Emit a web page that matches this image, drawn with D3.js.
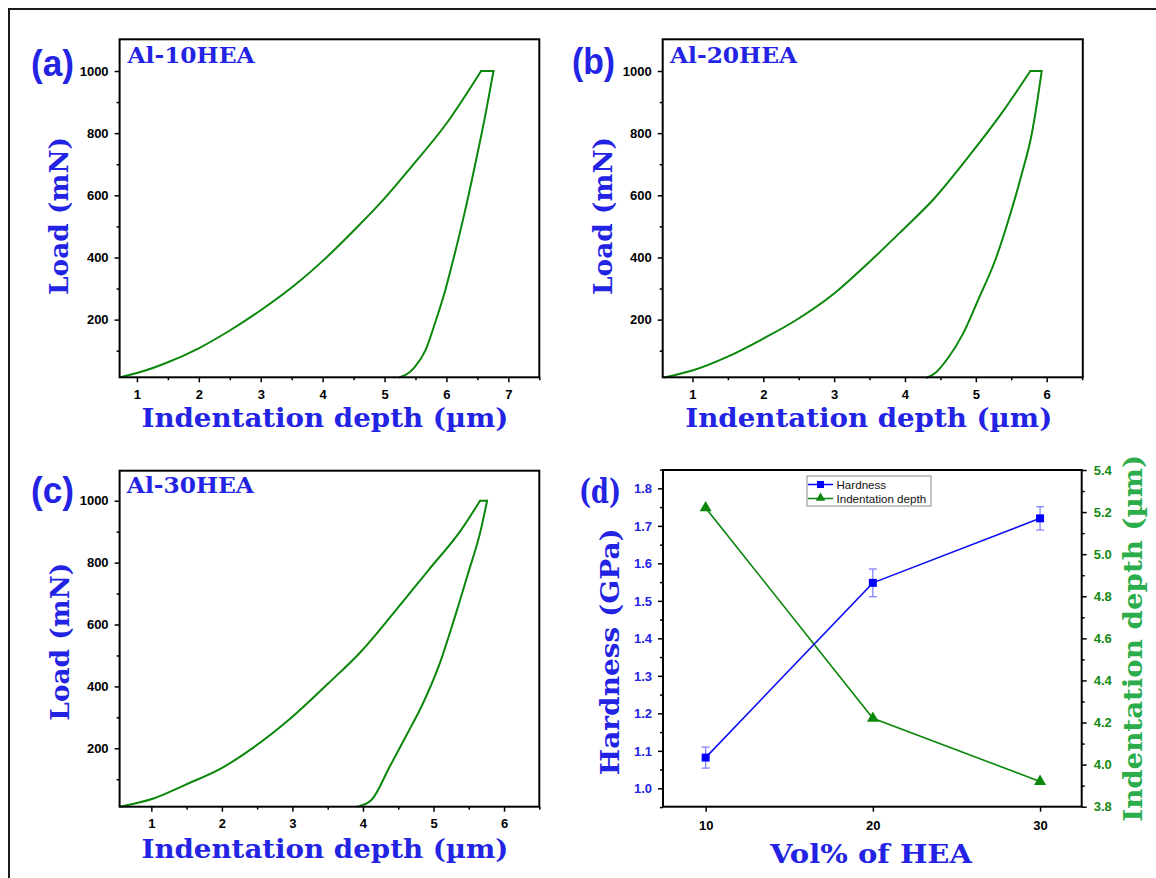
<!DOCTYPE html>
<html>
<head>
<meta charset="utf-8">
<script src="https://cdn.jsdelivr.net/npm/d3@7"></script>
<style>
  body { margin: 0; background: #fff; }
  svg { display: block; }
</style>
</head>
<body>
<svg id="fig" width="1156" height="878"></svg>
<script>
// ---- Load–depth curves: [depth (µm), load (mN)] ----
const al10Loading = [[0.74,15],[1.0,28],[1.44,58],[1.99,107],[2.5,165],[3.0,230],[3.58,316],[3.98,385],[4.56,498],[5.0,590],[5.43,691],[6.0,831],[6.56,1000]];
const al10Unloading = [[6.76,1000],[6.64,870],[6.47,705],[6.29,541],[6.12,401],[5.98,294],[5.83,198],[5.66,101],[5.49,48],[5.40,30],[5.24,14]];

const al20Loading = [[0.60,14],[1.01,37],[1.49,80],[2.0,139],[2.46,198],[3.0,284],[3.42,369],[3.96,487],[4.39,584],[4.93,734],[5.36,863],[5.77,1000]];
const al20Unloading = [[5.93,1000],[5.87,906],[5.79,798],[5.65,670],[5.46,520],[5.28,395],[5.03,262],[4.82,155],[4.60,74],[4.44,31],[4.31,13]];

const al30Loading = [[0.57,12],[1.03,38],[1.48,82],[1.99,135],[2.40,195],[3.0,302],[3.51,410],[3.97,512],[4.43,636],[4.93,776],[5.39,905],[5.66,1000]];
const al30Unloading = [[5.76,1000],[5.67,905],[5.49,765],[5.29,615],[5.09,475],[4.83,335],[4.63,248],[4.38,141],[4.12,33],[3.93,12]];

// ---- Hardness and indentation depth vs HEA content ----
const heaVolPct = [10, 20, 30];
const hardnessGPa = [1.082, 1.548, 1.72];
const hardnessErr = [0.028, 0.037, 0.031];
const indentDepthUm = [5.22, 4.22, 3.92];

// ---- Tick values ----
const loadMajorTicks = [200, 400, 600, 800, 1000];
const loadMinorTicks = [100, 300, 500, 700, 900];
const hardnessTicks = [1.0, 1.1, 1.2, 1.3, 1.4, 1.5, 1.6, 1.7, 1.8];
const depthTicks = [3.8, 4.0, 4.2, 4.4, 4.6, 4.8, 5.0, 5.2, 5.4];

// ---- Style ----
const BLUE = "#2323e4";
const CURVE_GREEN = "#0b870b";
const TITLE_GREEN = "#2aad4a";
const TICK_GREEN = "#138a13";
const SERIF = "'DejaVu Serif', serif";
const SANS = "Arial, 'Liberation Sans', sans-serif";

const svg = d3.select("#fig");
svg.append("rect").attr("width", 1156).attr("height", 878).attr("fill", "#fff");

// outer frame (only its top and left edges fall inside the page)
svg.append("rect")
  .attr("x", 9).attr("y", 9).attr("width", 1170).attr("height", 890)
  .attr("fill", "none").attr("stroke", "#1a1a1a").attr("stroke-width", 2);

function styleTicks(g, color, size) {
  g.select(".domain").remove();
  g.selectAll(".tick line").attr("stroke", "#000").attr("stroke-width", 1.5);
  g.selectAll(".tick text")
    .attr("fill", color)
    .style("font-family", SANS)
    .style("font-weight", "bold")
    .style("font-size", size + "px");
}

function rangeStep(a, b, step) {
  const out = [];
  for (let v = a; v <= b + 1e-9; v += step) out.push(+v.toFixed(4));
  return out;
}

function yTitle(text, x, cy, len, color) {
  svg.append("text")
    .attr("transform", `translate(${x},${cy}) rotate(-90)`)
    .attr("text-anchor", "middle")
    .attr("textLength", len).attr("lengthAdjust", "spacingAndGlyphs")
    .attr("fill", color)
    .style("font-family", SERIF).style("font-weight", "bold").style("font-size", "26px")
    .text(text);
}

function xTitle(text, cx, y, len) {
  svg.append("text")
    .attr("x", cx).attr("y", y)
    .attr("text-anchor", "middle")
    .attr("textLength", len).attr("lengthAdjust", "spacingAndGlyphs")
    .attr("fill", BLUE)
    .style("font-family", SERIF).style("font-weight", "bold").style("font-size", "26px")
    .text(text);
}

// depth rises with load on both branches, so each branch is sorted by depth
const byDepth = pts => pts.slice().sort((a, b) => a[0] - b[0]);

function drawLoadPanel(p) {
  const x = d3.scaleLinear().domain(p.xDomain).range([p.left, p.right]);
  const y = d3.scaleLinear().domain(p.yDomain).range([p.bottom, p.top]);

  const xMajor = d3.range(1, Math.floor(p.xDomain[1]) + 1);
  const xMinor = rangeStep(0.5, p.xDomain[1], 1).filter(v => v >= p.xDomain[0]);

  svg.append("g").attr("transform", `translate(0,${p.bottom})`)
    .call(d3.axisBottom(x).tickValues(xMajor).tickSize(5).tickPadding(7).tickFormat(d3.format("d")))
    .call(g => styleTicks(g, "#000", 13));
  svg.append("g").attr("transform", `translate(0,${p.bottom})`)
    .call(d3.axisBottom(x).tickValues(xMinor).tickSize(3).tickFormat(""))
    .call(g => styleTicks(g, "#000", 13));
  svg.append("g").attr("transform", `translate(${p.left},0)`)
    .call(d3.axisLeft(y).tickValues(loadMajorTicks).tickSize(5).tickPadding(6).tickFormat(d3.format("d")))
    .call(g => styleTicks(g, "#000", 13));
  svg.append("g").attr("transform", `translate(${p.left},0)`)
    .call(d3.axisLeft(y).tickValues(loadMinorTicks).tickSize(3).tickFormat(""))
    .call(g => styleTicks(g, "#000", 13));

  const smooth = d3.line().x(d => x(d[0])).y(d => y(d[1])).curve(d3.curveMonotoneX);
  const straight = d3.line().x(d => x(d[0])).y(d => y(d[1]));
  const plot = svg.append("g").attr("fill", "none").attr("stroke", CURVE_GREEN)
    .attr("stroke-width", 2).attr("stroke-linejoin", "round").attr("stroke-linecap", "round");
  plot.append("path").attr("d", smooth(byDepth(p.loading)));
  plot.append("path").attr("d", straight([p.loading[p.loading.length - 1], p.unloading[0]]));
  plot.append("path").attr("d", smooth(byDepth(p.unloading)));

  svg.append("rect")
    .attr("x", p.left).attr("y", p.top)
    .attr("width", p.right - p.left).attr("height", p.bottom - p.top)
    .attr("fill", "none").attr("stroke", "#000").attr("stroke-width", 2);

  // panel letter
  svg.append("text").attr("x", p.letterX).attr("y", p.letterY)
    .attr("fill", BLUE)
    .style("font-family", SANS).style("font-weight", "bold").style("font-size", "36px")
    .attr("textLength", 43).attr("lengthAdjust", "spacingAndGlyphs")
    .text(p.letter);

  // sample name
  svg.append("text").attr("x", p.nameX).attr("y", p.nameY)
    .attr("fill", BLUE)
    .attr("textLength", 127).attr("lengthAdjust", "spacingAndGlyphs")
    .style("font-family", SERIF).style("font-weight", "bold").style("font-size", "22px")
    .text(p.name);

  yTitle("Load (mN)", p.yTitleX, p.yTitleY, 158, BLUE);
  xTitle("Indentation depth (\u00b5m)", (p.left + p.right) / 2 + p.xTitleShift, p.xTitleY, 367);
}

drawLoadPanel({
  left: 119.6, right: 539.3, top: 39.3, bottom: 377.3,
  xDomain: [0.72, 7.5], yDomain: [14.4, 1102],
  loading: al10Loading, unloading: al10Unloading,
  letter: "(a)", letterX: 31, letterY: 76,
  name: "Al-10HEA", nameX: 127.5, nameY: 63,
  yTitleX: 68, yTitleY: 216, xTitleY: 427, xTitleShift: -4.5
});
drawLoadPanel({
  left: 662.7, right: 1082.8, top: 39.3, bottom: 377.3,
  xDomain: [0.58, 6.51], yDomain: [14.4, 1102],
  loading: al20Loading, unloading: al20Unloading,
  letter: "(b)", letterX: 572, letterY: 74,
  name: "Al-20HEA", nameX: 670, nameY: 63,
  yTitleX: 612, yTitleY: 216, xTitleY: 427, xTitleShift: -4
});
drawLoadPanel({
  left: 119.6, right: 539.3, top: 470.7, bottom: 806.7,
  xDomain: [0.55, 6.5], yDomain: [11.3, 1097],
  loading: al30Loading, unloading: al30Unloading,
  letter: "(c)", letterX: 31, letterY: 503,
  name: "Al-30HEA", nameX: 126.8, nameY: 493,
  yTitleX: 69, yTitleY: 641.7, xTitleY: 858, xTitleShift: -4.5
});

// ---- Panel (d): hardness and indentation depth ----
(function () {
  const left = 663, right = 1081.7, top = 470, bottom = 806.7;
  const x = d3.scaleLinear().domain([7.45, 32.49]).range([left, right]);
  const yH = d3.scaleLinear().domain([0.951, 1.849]).range([bottom, top]);
  const yD = d3.scaleLinear().domain([3.8, 5.4]).range([bottom, top]);

  svg.append("g").attr("transform", `translate(0,${bottom})`)
    .call(d3.axisBottom(x).tickValues(heaVolPct).tickSize(5).tickPadding(9).tickFormat(d3.format("d")))
    .call(g => styleTicks(g, "#000", 13));

  svg.append("g").attr("transform", `translate(${left},0)`)
    .call(d3.axisLeft(yH).tickValues(hardnessTicks).tickSize(5).tickPadding(6).tickFormat(d3.format(".1f")))
    .call(g => styleTicks(g, BLUE, 13));
  svg.append("g").attr("transform", `translate(${left},0)`)
    .call(d3.axisLeft(yH).tickValues(rangeStep(0.95, 1.85, 0.1)).tickSize(3).tickFormat(""))
    .call(g => styleTicks(g, BLUE, 13));

  svg.append("g").attr("transform", `translate(${right},0)`)
    .call(d3.axisRight(yD).tickValues(depthTicks).tickSize(5).tickPadding(7).tickFormat(d3.format(".1f")))
    .call(g => styleTicks(g, TICK_GREEN, 13));
  svg.append("g").attr("transform", `translate(${right},0)`)
    .call(d3.axisRight(yD).tickValues(rangeStep(3.9, 5.3, 0.2)).tickSize(3).tickFormat(""))
    .call(g => styleTicks(g, TICK_GREEN, 13));

  // indentation depth series
  svg.append("path")
    .attr("d", d3.line().x((d, i) => x(heaVolPct[i])).y(d => yD(d))(indentDepthUm))
    .attr("fill", "none").attr("stroke", CURVE_GREEN).attr("stroke-width", 1.6);
  svg.append("g").selectAll("path").data(indentDepthUm).join("path")
    .attr("transform", (d, i) => `translate(${x(heaVolPct[i])},${yD(d)})`)
    .attr("d", d3.symbol(d3.symbolTriangle, 62)())
    .attr("fill", CURVE_GREEN);

  // hardness error bars
  const eb = svg.append("g").attr("stroke", "#7a7aff").attr("stroke-width", 1.2).attr("fill", "none");
  hardnessGPa.forEach((h, i) => {
    const cx = x(heaVolPct[i]);
    const y1 = yH(h - hardnessErr[i]), y2 = yH(h + hardnessErr[i]);
    eb.append("line").attr("x1", cx).attr("x2", cx).attr("y1", y1).attr("y2", y2);
    eb.append("line").attr("x1", cx - 4).attr("x2", cx + 4).attr("y1", y1).attr("y2", y1);
    eb.append("line").attr("x1", cx - 4).attr("x2", cx + 4).attr("y1", y2).attr("y2", y2);
  });

  // hardness series
  svg.append("path")
    .attr("d", d3.line().x((d, i) => x(heaVolPct[i])).y(d => yH(d))(hardnessGPa))
    .attr("fill", "none").attr("stroke", "#1010f5").attr("stroke-width", 1.6);
  svg.append("g").selectAll("rect").data(hardnessGPa).join("rect")
    .attr("x", (d, i) => x(heaVolPct[i]) - 4).attr("y", d => yH(d) - 4)
    .attr("width", 8).attr("height", 8).attr("fill", "#0000ff");

  svg.append("rect")
    .attr("x", left).attr("y", top).attr("width", right - left).attr("height", bottom - top)
    .attr("fill", "none").attr("stroke", "#000").attr("stroke-width", 2);

  // legend
  const lg = svg.append("g");
  lg.append("rect").attr("x", 807).attr("y", 476).attr("width", 124).attr("height", 30)
    .attr("fill", "#fff").attr("stroke", "#8a8a8a").attr("stroke-width", 1);
  const rows = [
    { label: "Hardness", color: "#0000ff", y: 484.5, symbol: "square" },
    { label: "Indentation depth", color: CURVE_GREEN, y: 498.5, symbol: "triangle" }
  ];
  rows.forEach(r => {
    lg.append("line").attr("x1", 808).attr("x2", 833).attr("y1", r.y).attr("y2", r.y)
      .attr("stroke", r.color).attr("stroke-width", 1.5);
    if (r.symbol === "square") {
      lg.append("rect").attr("x", 817).attr("y", r.y - 3.5).attr("width", 7).attr("height", 7).attr("fill", r.color);
    } else {
      lg.append("path").attr("transform", `translate(820.5,${r.y - 0.5})`)
        .attr("d", d3.symbol(d3.symbolTriangle, 40)()).attr("fill", r.color);
    }
    lg.append("text").attr("x", 836.5).attr("y", r.y + 4)
      .attr("fill", "#111")
      .style("font-family", SANS).style("font-size", "11.6px")
      .text(r.label);
  });

  // panel letter
  svg.append("text").attr("x", 579).attr("y", 503)
    .attr("fill", BLUE)
    .attr("textLength", 42).attr("lengthAdjust", "spacingAndGlyphs")
    .style("font-family", SERIF).style("font-weight", "bold").style("font-size", "33px")
    .text("(d)");

  yTitle("Hardness (GPa)", 618.5, 651.7, 247, BLUE);
  yTitle("Indentation depth (\u00b5m)", 1141.5, 638.3, 367, TITLE_GREEN);
  xTitle("Vol% of HEA", 871, 862.7, 202);
})();
</script>
</body>
</html>
